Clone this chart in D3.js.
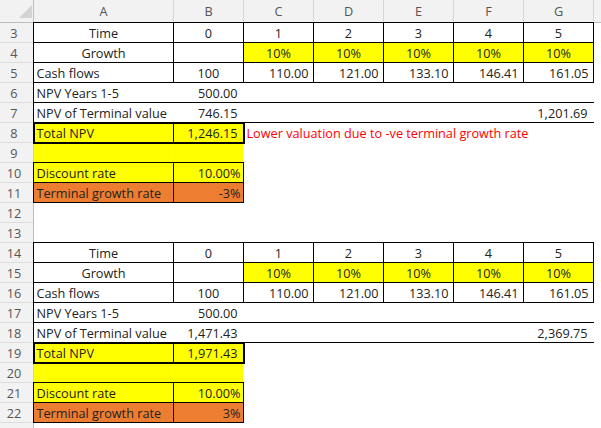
<!DOCTYPE html>
<html>
<head>
<meta charset="utf-8">
<script src="https://cdn.jsdelivr.net/npm/d3@7"></script>
<style>
  body { margin: 0; background: #fff; }
  svg text { font-family: "Open Sans", "Liberation Sans", sans-serif; font-size: 12.7px; }
</style>
</head>
<body>
<script>
// sheet layout data
const colLetters = ["A", "B", "C", "D", "E", "F", "G"];
const colWidths = [140, 70, 70, 70, 70, 70, 70];
const rowNumbers = [3, 4, 5, 6, 7, 8, 9, 10, 11, 12, 13, 14, 15, 16, 17, 18, 19, 20, 21, 22];

// model values
const timeLabels = ["0", "1", "2", "3", "4", "5"];
const growthRates = [0.10, 0.10, 0.10, 0.10, 0.10];
const cashFlows = [100, 110.00, 121.00, 133.10, 146.41, 161.05];
const scenarioRows = [3, 14];
const npvYears = [500.00, 500.00];
const npvTerminal = [746.15, 1471.43];
const terminalValue = [1201.69, 2369.75];
const totalNpv = [1246.15, 1971.43];
const discountRates = [0.10, 0.10];
const terminalGrowth = [-0.03, 0.03];
const notes = ["Lower valuation due to -ve terminal growth rate", ""];

const sheet = (() => {
  var initModule, locale, fmt2, pct0, pct2, x, xEnd, y, rowH;

  const width = 601, height = 428;
  const left = 33.5, top = 22.5;
  rowH = 20;

  locale = d3.formatLocale({decimal: ".", thousands: ",", grouping: [3], currency: ["", ""], minus: "-"});
  fmt2 = locale.format(",.2f");
  pct0 = locale.format(".0%");
  pct2 = locale.format(".2%");

  const edges = d3.cumsum([0].concat(colWidths)).map(v => v + left);
  x = d3.scaleOrdinal().domain(colLetters).range(edges.slice(0, -1));
  xEnd = d3.scaleOrdinal().domain(colLetters).range(edges.slice(1));
  y = d3.scaleBand().domain(rowNumbers).range([top, top + rowH * rowNumbers.length]);

  const YELLOW = "#ffff00", ORANGE = "#ed7d31";

  initModule = () => {
    const svg = d3.select("body").append("svg")
      .attr("width", width)
      .attr("height", height);

    // build cells
    let cells = [];
    let lines = [];
    let boxes = [];
    const cell = (r, c, text, align, fill, color, pad) =>
      cells.push({r, c, text, align, fill, color, pad: pad == null ? 5 : pad});
    const hline = (r, c0, c1, w) => lines.push({x1: x(c0), x2: xEnd(c1), y1: y(r), y2: y(r), w: w || 1});
    const vline = (c, r0, r1, end) => {
      const xx = end ? xEnd(c) : x(c);
      lines.push({x1: xx, x2: xx, y1: y(r0), y2: y(r1) + rowH, w: 1});
    };

    scenarioRows.forEach((r0, s) => {
      cell(r0, "A", "Time", "middle");
      timeLabels.forEach((t, i) => cell(r0, colLetters[i + 1], t, "middle"));
      cell(r0 + 1, "A", "Growth", "middle");
      growthRates.forEach((g, i) => cell(r0 + 1, colLetters[i + 2], pct0(g), "middle", YELLOW));
      cell(r0 + 2, "A", "Cash flows", "start");
      cashFlows.forEach((v, i) => i === 0
        ? cell(r0 + 2, "B", String(v), "middle")
        : cell(r0 + 2, colLetters[i + 1], fmt2(v), "end"));
      cell(r0 + 3, "A", "NPV Years 1-5", "start");
      cell(r0 + 3, "B", fmt2(npvYears[s]), "end", null, null, 6);
      cell(r0 + 4, "A", "NPV of Terminal value", "start");
      cell(r0 + 4, "B", fmt2(npvTerminal[s]), "end", null, null, 6);
      cell(r0 + 4, "G", fmt2(terminalValue[s]), "end", null, null, 6);
      cell(r0 + 5, "A", "Total NPV", "start", YELLOW);
      cell(r0 + 5, "B", fmt2(totalNpv[s]), "end", YELLOW, null, 6);
      if (notes[s]) cell(r0 + 5, "C", notes[s], "start", null, "#ff0000");
      cell(r0 + 6, "A", "", "start", YELLOW);
      cell(r0 + 6, "B", "", "start", YELLOW);
      cell(r0 + 7, "A", "Discount rate", "start", YELLOW);
      cell(r0 + 7, "B", pct2(discountRates[s]), "end", YELLOW, null, 3);
      cell(r0 + 8, "A", "Terminal growth rate", "start", ORANGE);
      cell(r0 + 8, "B", pct0(terminalGrowth[s]), "end", ORANGE, null, 3);

      // borders
      for (let r = r0; r <= r0 + 5; r++) hline(r, "A", "G");
      [r0 + 3, r0 + 4].forEach(r => lines.push({x1: x("A"), x2: xEnd("G"), y1: y(r) + rowH, y2: y(r) + rowH, w: 1}));
      colLetters.forEach(c => vline(c, r0, r0 + 2));
      vline("G", r0, r0 + 2, true);
      vline("A", r0 + 3, r0 + 4);
      boxes.push({r: r0 + 5, w: 2});
      [r0 + 7, r0 + 8].forEach(r => {
        hline(r, "A", "B");
        vline("A", r, r);
        vline("B", r, r);
        vline("B", r, r, true);
      });
      lines.push({x1: x("A"), x2: xEnd("B"), y1: y(r0 + 8) + rowH, y2: y(r0 + 8) + rowH, w: 1});
      vline("B", r0 + 5, r0 + 5);
    });

    // headers
    svg.append("rect")
      .attr("width", width).attr("height", top)
      .attr("fill", "#f2f2f2");
    svg.append("rect")
      .attr("y", top).attr("width", left).attr("height", height - top)
      .attr("fill", "#f2f2f2");

    svg.append("path")
      .attr("d", "M32,5L32,18L19,18Z")
      .attr("fill", "#d3d3d3");

    const colHead = svg.append("g");
    colHead.selectAll("line")
      .data(colLetters.concat(["H"]))
      .join("line")
      .attr("x1", c => c === "H" ? xEnd("G") : x(c))
      .attr("x2", c => c === "H" ? xEnd("G") : x(c))
      .attr("y1", 0).attr("y2", top)
      .attr("stroke", "#d6d6d6");
    colHead.selectAll("text")
      .data(colLetters)
      .join("text")
      .attr("x", c => (x(c) + xEnd(c)) / 2)
      .attr("y", 16)
      .attr("text-anchor", "middle")
      .attr("fill", "#555")
      .text(c => c);

    const rowHead = svg.append("g");
    rowHead.selectAll("line")
      .data(rowNumbers)
      .join("line")
      .attr("x1", 0).attr("x2", left)
      .attr("y1", r => y(r) + rowH).attr("y2", r => y(r) + rowH)
      .attr("stroke", "#dcdcdc");
    rowHead.selectAll("text")
      .data(rowNumbers)
      .join("text")
      .attr("x", 14)
      .attr("y", r => y(r) + 15)
      .attr("text-anchor", "middle")
      .attr("fill", "#555")
      .text(r => r);

    svg.append("line")
      .attr("x1", 0).attr("x2", width).attr("y1", top).attr("y2", top)
      .attr("stroke", "#bdbdbd");
    svg.append("line")
      .attr("x1", left).attr("x2", left).attr("y1", 0).attr("y2", height)
      .attr("stroke", "#bdbdbd");

    // cell fills
    svg.append("g").selectAll("rect")
      .data(cells.filter(d => d.fill))
      .join("rect")
      .attr("x", d => x(d.c))
      .attr("y", d => y(d.r))
      .attr("width", d => xEnd(d.c) - x(d.c))
      .attr("height", rowH)
      .attr("fill", d => d.fill);

    // borders
    svg.append("g").selectAll("line")
      .data(lines)
      .join("line")
      .attr("x1", d => d.x1).attr("x2", d => d.x2)
      .attr("y1", d => d.y1).attr("y2", d => d.y2)
      .attr("stroke", "#000")
      .attr("stroke-width", d => d.w)
      .attr("stroke-linecap", "square");

    svg.append("g").selectAll("rect")
      .data(boxes)
      .join("rect")
      .attr("x", x("A") + 0.5)
      .attr("y", d => y(d.r) + 0.5)
      .attr("width", xEnd("B") - x("A"))
      .attr("height", rowH)
      .attr("fill", "none")
      .attr("stroke", "#000")
      .attr("stroke-width", d => d.w);

    // cell text
    svg.append("g").selectAll("text")
      .data(cells.filter(d => d.text))
      .join("text")
      .attr("x", d => d.align === "middle" ? (x(d.c) + xEnd(d.c)) / 2
        : d.align === "end" ? xEnd(d.c) - d.pad : x(d.c) + 3)
      .attr("y", d => y(d.r) + 15.5)
      .attr("text-anchor", d => d.align)
      .attr("fill", d => d.color || "#222")
      .text(d => d.text);

    return "sheet initialized.";
  };

  return {
    initModule: initModule
  };
})();

sheet.initModule();
</script>
</body>
</html>
